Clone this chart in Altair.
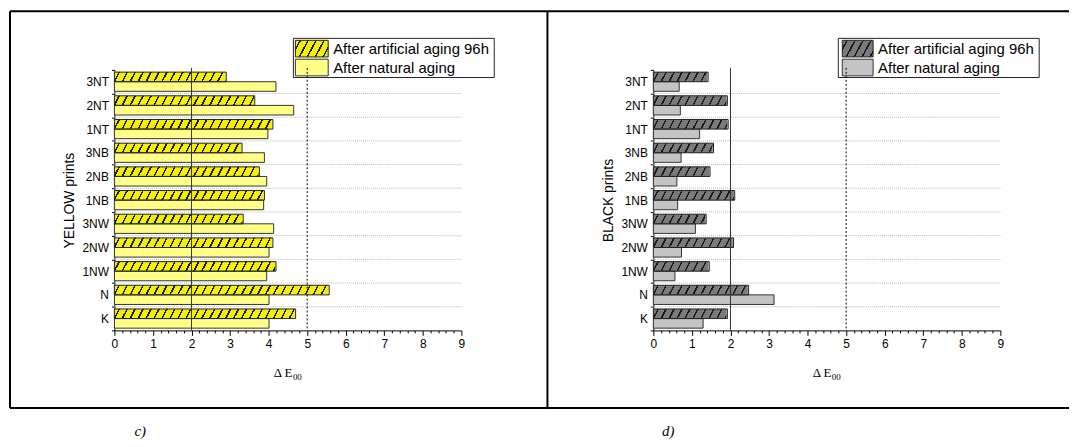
import altair as alt
import pandas as pd

# ---------------- data ----------------
cats = ["3NT", "2NT", "1NT", "3NB", "2NB", "1NB", "3NW", "2NW", "1NW", "N", "K"]
series = ["After artificial aging 96h", "After natural aging"]

yellow_art = [2.90, 3.64, 4.11, 3.31, 3.76, 3.89, 3.34, 4.11, 4.19, 5.57, 4.70]
yellow_nat = [4.19, 4.65, 3.98, 3.89, 3.95, 3.87, 4.13, 4.01, 3.95, 4.01, 4.01]
black_art = [1.42, 1.92, 1.94, 1.56, 1.47, 2.11, 1.37, 2.08, 1.45, 2.47, 1.92]
black_nat = [0.67, 0.70, 1.20, 0.72, 0.61, 0.63, 1.09, 0.73, 0.56, 3.13, 1.29]

x_ticks = [i / 5 for i in range(46)]
ref_solid = [2]
ref_dotted = [5]
x_domain = [0, 9]

PW, PH = 349, 262
SANS = "Liberation Sans"
SERIF = "Liberation Serif"


def hatch(W, d, P, lw, bg, fg):
    """Diagonal '/' hatch as a linear gradient in bbox units."""
    r = d / W
    lam = (1 + r) / (1 + r * r)
    total = W + d
    stops = [(0.0, bg)]
    k = 0
    while True:
        s = P * 0.5 + k * P
        e = s + lw
        if e / total >= 0.999:
            break
        stops += [(s / total, bg), (s / total, fg), (e / total, fg), (e / total, bg)]
        k += 1
    stops.append((1.0, bg))
    return alt.LinearGradient(
        gradient="linear", x1=0, y1=0, x2=lam, y2=lam * r,
        stops=[alt.GradientStop(offset=o, color=c) for o, c in stops],
    )


def panel(art, nat, art_col, nat_col, ytitle, caption, leg, cap_x):
    rows = []
    for c, a, n in zip(cats, art, nat):
        rows.append({"cat": c, "series": series[0], "value": a})
        rows.append({"cat": c, "series": series[1], "value": n})
    df = pd.DataFrame(rows)
    one = pd.DataFrame({"k": [0]})
    base = alt.Chart(df)

    y_scale = alt.Scale(paddingInner=0, paddingOuter=0)
    y_axis = alt.Axis(
        title=ytitle, titleFont=SANS, titleFontSize=14, titleFontWeight="normal",
        titleColor="black", titlePadding=5, labelFont=SANS, labelFontSize=12,
        labelColor="black", labelPadding=3, tickBand="extent", tickSize=3,
        tickColor="black", domainColor="black", grid=False,
    )
    x_axis = alt.Axis(
        values=x_ticks,
        labelExpr="datum.value % 1 === 0 ? format(datum.value, 'd') : ''",
        tickSize={"condition": {"test": "datum.value % 1 === 0", "value": 5}, "value": 2.5},
        title=None, grid=False, domainColor="black", tickColor="black",
        labelFont=SANS, labelFontSize=12, labelColor="black", labelPadding=3,
        labelOverlap=False, labelFlush=False,
    )
    y_enc = alt.Y("cat:N", sort=cats, scale=y_scale, axis=y_axis)
    yoff = alt.YOffset("series:N", sort=series,
                       scale=alt.Scale(domain=series, paddingInner=0, paddingOuter=0.235))
    x_enc = alt.X("value:Q", scale=alt.Scale(domain=x_domain, nice=False, zero=True), axis=x_axis)

    is_art = alt.datum.series == series[0]
    is_nat = alt.datum.series == series[1]

    grid = base.transform_filter(is_art).transform_filter(alt.datum.cat != cats[0]).mark_rule(
        color="#BBBBBB", strokeDash=[1, 1], strokeWidth=1
    ).encode(y=alt.Y("cat:N", sort=cats, scale=y_scale, axis=y_axis, bandPosition=0))

    hatch_bg = base.transform_filter(is_art).mark_rect(
        fill=hatch(PW, 5, 8, 1.7, art_col, "#1a1a1a"), strokeWidth=0
    ).encode(y=y_enc, yOffset=yoff, x=alt.value(0), x2=alt.value("width"))

    cover = base.transform_filter(is_art).mark_rect(
        fill="white", stroke="white", strokeWidth=1.6
    ).encode(y=y_enc, yOffset=yoff, x=x_enc, x2=alt.value("width"))

    nat_bars = base.transform_filter(is_nat).mark_bar(
        fill=nat_col, stroke="#333333", strokeWidth=1
    ).encode(y=y_enc, yOffset=yoff, x=x_enc)

    art_outline = base.transform_filter(is_art).mark_bar(
        fillOpacity=0, stroke="#222222", strokeWidth=1
    ).encode(y=y_enc, yOffset=yoff, x=x_enc)

    bx0, sx0, sx1, tx, bx1 = leg
    leg_box = alt.Chart(one).mark_rect(fill="white", stroke="#222222", strokeWidth=1).encode(
        x=alt.value(bx0), x2=alt.value(bx1), y=alt.value(-31.7), y2=alt.value(7.7))
    sw1 = alt.Chart(one).mark_rect(
        fill=hatch(sx1 - sx0, 9, 8, 1.8, art_col, "#1a1a1a"), stroke="#222222", strokeWidth=1
    ).encode(x=alt.value(sx0), x2=alt.value(sx1), y=alt.value(-29.7), y2=alt.value(-13))
    sw2 = alt.Chart(one).mark_rect(fill=nat_col, stroke="#333333", strokeWidth=1).encode(
        x=alt.value(sx0), x2=alt.value(sx1), y=alt.value(-10.7), y2=alt.value(6))
    t1 = alt.Chart(one).mark_text(align="left", baseline="middle", font=SANS, fontSize=15,
                                  color="black").encode(
        x=alt.value(tx), y=alt.value(-21.3), text=alt.value(series[0]))
    t2 = alt.Chart(one).mark_text(align="left", baseline="middle", font=SANS, fontSize=15,
                                  color="black").encode(
        x=alt.value(tx), y=alt.value(-2.0), text=alt.value(series[1]))

    r2 = alt.Chart(pd.DataFrame({"value": ref_solid})).mark_rule(
        color="#333333", strokeWidth=1).encode(x=x_enc, y=alt.value(-2), y2=alt.value("height"))
    r5 = alt.Chart(pd.DataFrame({"value": ref_dotted})).mark_rule(
        color="black", strokeWidth=1, strokeDash=[2, 2]).encode(
        x=x_enc, y=alt.value(-2), y2=alt.value("height"))

    xt1 = alt.Chart(one).mark_text(align="right", baseline="middle", font=SERIF, fontSize=13,
                                   color="black").encode(
        x=alt.value(179), y=alt.value(305), text=alt.value("Δ E"))
    xt2 = alt.Chart(one).mark_text(align="left", baseline="middle", font=SERIF, fontSize=9,
                                   color="black").encode(
        x=alt.value(179.5), y=alt.value(309), text=alt.value("00"))
    cap = alt.Chart(one).mark_text(align="center", baseline="middle", font=SERIF, fontSize=15,
                                   fontStyle="italic", color="black").encode(
        x=alt.value(cap_x), y=alt.value(363), text=alt.value(caption))

    return [grid, hatch_bg, cover, nat_bars, art_outline, leg_box, sw1, sw2, t1, t2,
            r2, r5, xt1, xt2, cap]


one = pd.DataFrame({"k": [0]})
BOX = "black"

left_layers = panel(yellow_art, yellow_nat, "#F5F000", "#FFFF88", "YELLOW prints", "c)",
                    (180, 182, 215, 220, 382), 26)
left_box = [
    alt.Chart(one).mark_rule(color=BOX, strokeWidth=2).encode(
        x=alt.value(-105), x2=alt.value(435), y=alt.value(-59)),
    alt.Chart(one).mark_rule(color=BOX, strokeWidth=2).encode(
        x=alt.value(-105), x2=alt.value(435), y=alt.value(340)),
    alt.Chart(one).mark_rule(color=BOX, strokeWidth=2).encode(
        x=alt.value(-105), y=alt.value(-59), y2=alt.value(340)),
    alt.Chart(one).mark_rule(color=BOX, strokeWidth=2).encode(
        x=alt.value(435.5), y=alt.value(-59), y2=alt.value(340)),
]
left = alt.layer(*left_layers, *left_box).properties(width=PW, height=PH)

right_layers = panel(black_art, black_nat, "#7A7A7A", "#C4C4C4", "BLACK prints", "d)",
                     (186, 190, 221, 226, 388), 15)
right_box = [
    alt.Chart(one).mark_rule(color=BOX, strokeWidth=2).encode(
        x=alt.value(-107), x2=alt.value(418), y=alt.value(-59)),
    alt.Chart(one).mark_rule(color=BOX, strokeWidth=2).encode(
        x=alt.value(-107), x2=alt.value(418), y=alt.value(340)),
]
right = alt.layer(*right_layers, *right_box).properties(width=PW, height=PH)

chart = alt.hconcat(left, right, spacing=193, bounds="flush").properties(
    padding={"left": 1, "top": 1, "right": 0, "bottom": 0}
).configure_view(stroke=None)

chart.save("out.html", embed_options={"renderer": "svg", "actions": False})
